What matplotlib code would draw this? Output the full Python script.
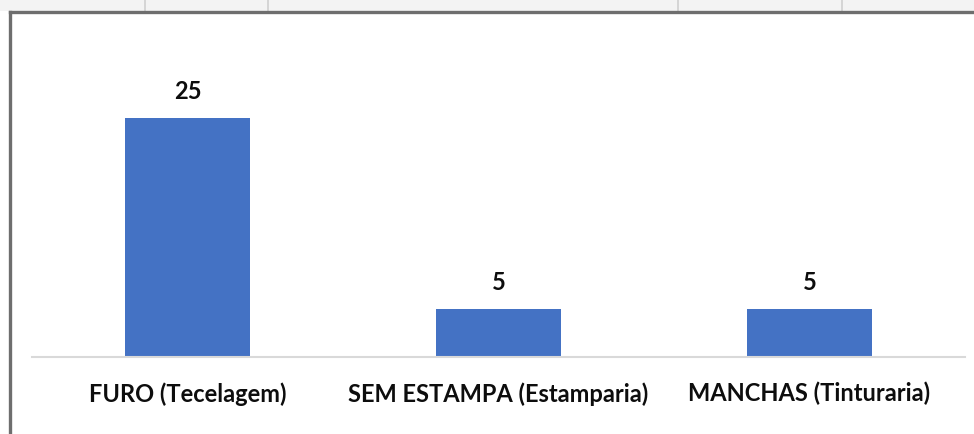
import matplotlib.pyplot as plt
from matplotlib.lines import Line2D
from matplotlib.patches import Rectangle

categorias = ["FURO (Tecelagem)", "SEM ESTAMPA (Estamparia)", "MANCHAS (Tinturaria)"]
valores = [25, 5, 5]

plt.rcParams['font.family'] = ['Lato', 'DejaVu Sans']

W, H = 974, 434
fig = plt.figure(figsize=(W / 100, H / 100), dpi=100)
fig.patch.set_facecolor("white")

# faixa da planilha atras do grafico
fig.patches.append(Rectangle((0, 1 - 11 / H), 1, 11 / H, transform=fig.transFigure,
                             facecolor="#f3f3f3", edgecolor="none", zorder=0))
for xc in [145, 268, 678, 842]:
    fig.lines.append(Line2D([xc / W, xc / W], [1, 1 - 11 / H], transform=fig.transFigure,
                            color="#cfcfcf", lw=1.2, zorder=1))
# borda da area do grafico
fig.lines.append(Line2D([9.5 / W, 1], [1 - 12 / H, 1 - 12 / H], transform=fig.transFigure,
                        color="#6e6e6e", lw=2.4, zorder=2))
fig.lines.append(Line2D([9.5 / W, 9.5 / W], [0, 1 - 12 / H], transform=fig.transFigure,
                        color="#6e6e6e", lw=2.4, zorder=2))

top_px = 357 - 30 * 9.56
ax = fig.add_axes([32 / W, 77 / H, (965 - 32) / W, (357 - top_px) / H])
ax.set_facecolor("none")

x = range(len(categorias))
barras = ax.bar(x, valores, width=0.4, color="#4472c4", zorder=2)
for b, v in zip(barras, valores):
    ax.text(b.get_x() + b.get_width() / 2, v + 1.6, str(v), ha="center", va="bottom",
            fontsize=17, fontweight="bold", color="#0d0d0d")

ax.set_xlim(-0.5, 2.5)
ax.set_ylim(0, 30)
ax.set_xticks(list(x))
ax.set_xticklabels(categorias, fontsize=17, fontweight="bold", color="#0d0d0d")
ax.tick_params(axis="x", length=0, pad=18)
ax.set_yticks([])
for s in ["top", "right", "left"]:
    ax.spines[s].set_visible(False)
ax.spines["bottom"].set_color("#d9d9d9")
ax.spines["bottom"].set_linewidth(1.5)

fig.savefig("out.png", dpi=100)
